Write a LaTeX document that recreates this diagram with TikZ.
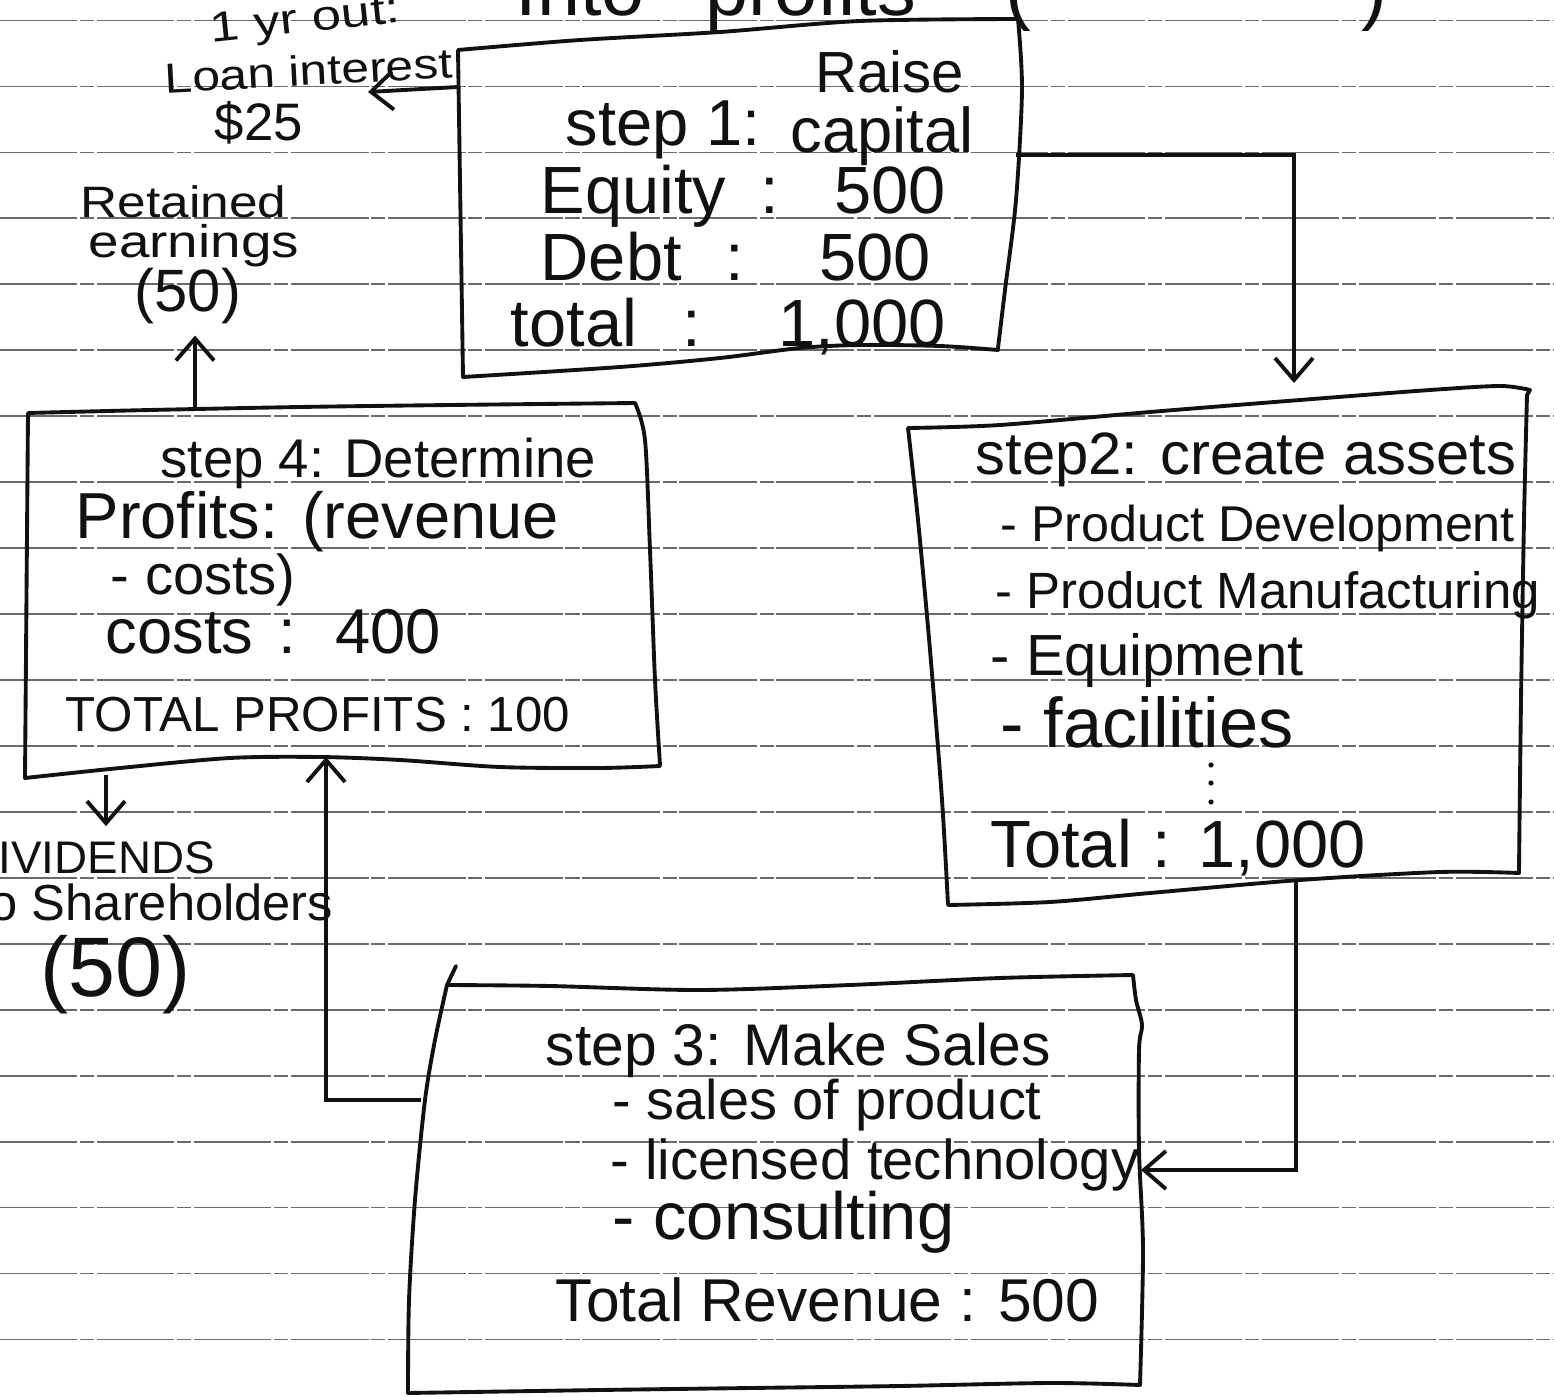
\documentclass[tikz,border=0pt]{standalone}
\usepackage{fontspec}
\setmainfont{Liberation Sans}
\usepackage{graphicx}
\usepackage{tikz}
\usetikzlibrary{arrows.meta,calc}
\definecolor{ink}{HTML}{111111}
\definecolor{ruleink}{HTML}{6A6A6A}
\definecolor{paper}{HTML}{FFFFFF}
\newcommand{\spread}[2]{\makebox[#1cm][s]{#2}}
\newcommand{\wide}[2]{\scalebox{#1}[1]{#2}}
\tikzset{
  ruleline/.style={color=ruleink,line width=0.5pt,dash pattern=on 22pt off 0.8pt on 4pt off 0.8pt},
  boxline/.style={draw=ink,line width=1.1pt,line join=round,line cap=round},
  flowline/.style={-{Straight Barb[length=2.2mm,width=3.8mm]},line width=1.1pt,color=ink},
  hw/.style={font=\fontsize{#1}{#1}\selectfont,inner sep=0pt,anchor=west,text=ink}
}

\begin{document}
\begin{tikzpicture}[x=0.01cm,y=0.01cm]
  \fill[paper] (0,0) rectangle (1554,-1397);
  \useasboundingbox (0,0) rectangle (1554,-1397);
  \foreach \k in {0,...,20}
    \draw[ruleline] (0,{-20.5-65.95*\k}) -- (1554,{-20.5-65.95*\k});

  % heading, cut off by the page edge
  \node[hw=22,anchor=base west] (topa) at (515,-16) {\spread{4.0}{Into profits}};
  \node[hw=22,anchor=base west] (topb) at (1005,-16) {(\hspace{3.3cm})};

  % step 1
  \draw[boxline] plot[smooth] coordinates {(458,-50) (580,-40) (720,-32) (860,-21) (1018,-19)}
    -- plot[smooth] coordinates {(1018,-19) (1022,-90) (1016,-200) (1005,-290) (998,-348)}
    -- plot[smooth] coordinates {(998,-350) (940,-346) (860,-345) (800,-348) (720,-358) (620,-367) (463,-377)}
    -- cycle;
  \node[hw=16.5] (s1raise) at (815,-72) {Raise};
  \node[hw=18.5] (s1step) at (565,-130) {step 1:};
  \node[hw=18] (s1cap) at (790,-136) {capital};
  \node[hw=19] (s1eq) at (540,-196) {\spread{4.05}{Equity : 500}};
  \node[hw=19] (s1debt) at (540,-257) {\spread{3.9}{Debt : 500}};
  \node[hw=19] (s1tot) at (510,-327) {\spread{4.35}{total : 1,000}};

  % step 2
  \draw[boxline] plot[smooth] coordinates {(908,-428) (1000,-425) (1150,-412) (1300,-400) (1430,-390) (1500,-386) (1530,-390)}
    -- plot[smooth] coordinates {(1527,-395) (1524,-520) (1521,-700) (1519,-870)}
    -- plot[smooth] coordinates {(1519,-873) (1440,-872) (1300,-880) (1150,-893) (1050,-902) (948,-905)}
    -- plot[smooth] coordinates {(948,-905) (942,-800) (930,-650) (918,-520) (908,-428)};
  \node[hw=17] (s2head) at (975,-460) {step2: create assets};
  \node[hw=14.3] (s2dev) at (1000,-528) {- Product Development};
  \node[hw=14.5] (s2man) at (995,-595) {- Product Manufacturing};
  \node[hw=16.5] (s2equ) at (990,-660) {- Equipment};
  \node[hw=20] (s2fac) at (1000,-722) {- facilities};
  \foreach \dy in {765,783,802}
    \fill[ink] (1211,-\dy) circle (2.6);
  \node[hw=19] (s2tot) at (990,-848) {\spread{3.75}{Total : 1,000}};

  % step 3
  \draw[boxline] (456,-966) -- plot[smooth] coordinates {(447,-985) (550,-986) (700,-990) (850,-985) (1000,-978) (1133,-975)}
    -- plot[smooth] coordinates {(1133,-975) (1136,-1000) (1142,-1025) (1139,-1050) (1139,-1150) (1143,-1250) (1140,-1385)}
    -- plot[smooth] coordinates {(1140,-1385) (1050,-1383) (900,-1386) (750,-1388) (600,-1390) (408,-1393)}
    -- plot[smooth] coordinates {(408,-1393) (409,-1300) (415,-1200) (425,-1100) (435,-1040) (447,-985)};
  \node[hw=16.7] (s3head) at (545,-1050) {step 3: Make Sales};
  \node[hw=15.9] (s3prod) at (612,-1105) {- sales of product};
  \node[hw=16] (s3lic) at (610,-1165) {- licensed technology};
  \node[hw=19] (s3con) at (612,-1222) {- consulting};
  \node[hw=17.2] (s3tot) at (555,-1300) {Total Revenue : 500};

  % step 4
  \draw[boxline] plot[smooth] coordinates {(28,-413) (150,-410) (300,-407) (450,-405) (635,-403)}
    -- plot[smooth] coordinates {(635,-403) (645,-440) (650,-550) (655,-680) (660,-765)}
    -- plot[smooth] coordinates {(660,-766) (600,-768) (500,-767) (400,-760) (320,-757) (230,-758) (120,-768) (25,-778)}
    -- cycle;
  \node[hw=15.5] (s4head) at (160,-463) {step 4: Determine};
  \node[hw=18.5] (s4prof) at (75,-522) {Profits: (revenue};
  \node[hw=16] (s4costs) at (110,-580) {- costs)};
  \node[hw=18] (s4c400) at (105,-632) {\spread{3.35}{costs : 400}};
  \node[hw=14] (s4tot) at (65,-715) {TOTAL PROFITS : 100};

  % side notes
  \node[hw=12,rotate=6] (yrout) at (210,-32) {\wide{1.25}{1 yr out:}};
  \node[hw=12,rotate=3] (loan) at (164,-78) {\wide{1.18}{Loan interest}};
  \node[hw=15] (amt) at (214,-123) {\$25};
  \node[hw=12.5] (ret) at (80,-202) {\wide{1.17}{Retained}};
  \node[hw=13] (earn) at (88,-246) {\wide{1.2}{earnings}};
  \node[hw=17] (ret50) at (134,-296) {(50)};
  \node[hw=13] (divs) at (-35,-858) {DIVIDENDS};
  \node[hw=14.4] (share) at (-25,-902) {to Shareholders};
  \node[hw=24] (div50) at (40,-975) {(50)};

  % money flows
  \coordinate (b1w) at (458,-87);
  \coordinate (loantip) at (368,-92);
  \coordinate (b1e) at (1016,-155);
  \coordinate (b2n) at (1294,-383);
  \coordinate (b2s) at (1296,-880);
  \coordinate (b3e) at (1141,-1170);
  \coordinate (b3w) at (421,-1100);
  \coordinate (b4in) at (326,-757);
  \coordinate (b4n) at (195,-408);
  \coordinate (b4d) at (106,-775);
  \draw[flowline] (b1w) -- (loantip);
  \draw[flowline] (b1e) -- (b1e -| b2n) -- (b2n);
  \draw[flowline] (b2s) -- (b2s |- b3e) -- (b3e);
  \draw[flowline] (b3w) -- (b3w -| b4in) -- (b4in);
  \draw[flowline,shorten >=1.1mm] (b4n) -- (b4n |- ret50.south);
  \draw[flowline,shorten >=1.5mm] (b4d) -- (b4d |- divs.north);
\end{tikzpicture}
\end{document}
